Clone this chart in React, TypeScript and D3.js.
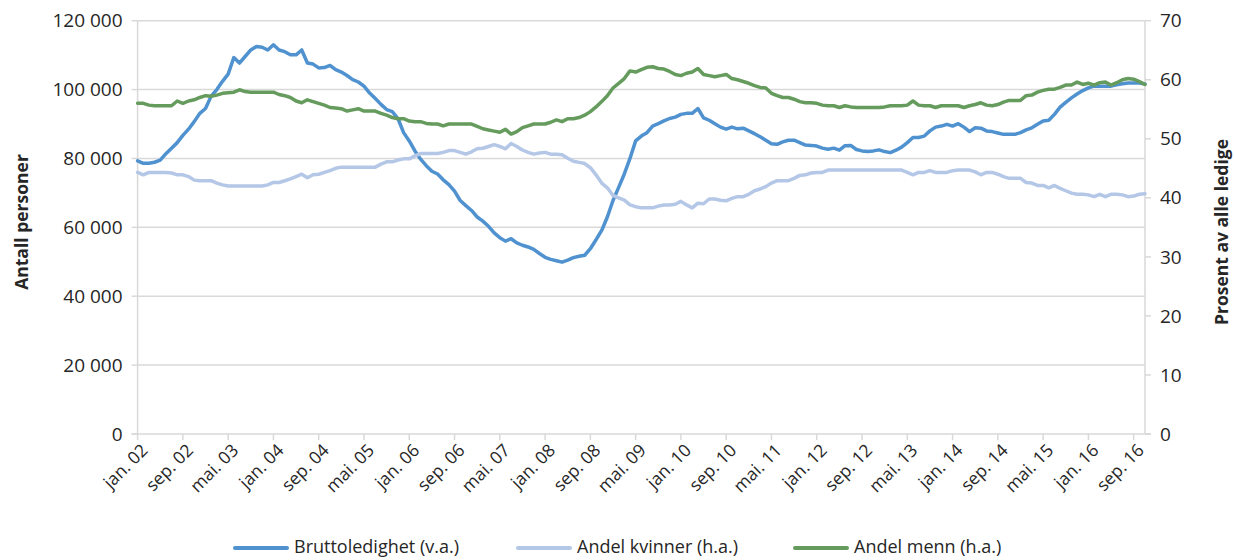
import React, { useRef, useEffect } from "react";
import * as d3 from "d3";

// monthly data, jan 2002 - nov 2016
const startYear = 2002;
const monthNames = ["jan", "feb", "mar", "apr", "mai", "jun", "jul", "aug", "sep", "okt", "nov", "des"];

// Bruttoledighet (antall personer, venstre akse)
const brutto = [
  79300, 78600, 78600, 78900, 79500, 81400, 83000, 84600, 86700, 88500, 90700, 93100,
  94500, 98100, 100000, 102400, 104500, 109300, 107700, 109600, 111500, 112500, 112300, 111500,
  113000, 111500, 111000, 110100, 110100, 111500, 107700, 107400, 106300, 106400, 107000, 105800,
  105100, 104100, 102900, 102200, 101000, 99000, 97400, 95700, 94200, 93600, 91600, 87500,
  85100, 82200, 79800, 77900, 76300, 75500, 73800, 72400, 70500, 67800, 66300, 64900,
  63000, 61800, 60300, 58400, 57000, 56000, 56700, 55500, 54800, 54300, 53600, 52400,
  51300, 50700, 50300, 49900, 50500, 51200, 51600, 51900, 53800, 56400, 59100, 63000,
  67800, 71600, 75500, 80000, 85100, 86500, 87500, 89400, 90100, 90900, 91600, 92000,
  92800, 93100, 93100, 94500, 91800, 91100, 90100, 89100, 88500, 89100, 88600, 88800,
  88000, 87200, 86300, 85300, 84300, 84100, 84800, 85300, 85300, 84600, 83900, 83800,
  83600, 83000, 82700, 83000, 82400, 83700, 83800, 82600, 82200, 82000, 82200, 82500,
  82000, 81700, 82400, 83300, 84600, 86100, 86100, 86500, 88000, 89100, 89400, 89900,
  89400, 90100, 89100, 87800, 88900, 88800, 88000, 87800, 87400, 87000, 87000, 87000,
  87500, 88300, 88900, 89900, 90900, 91100, 92800, 94900, 96300, 97600, 98700, 99700,
  100500, 101000, 101000, 101000, 101000, 101400, 101700, 101900, 101900, 101900, 101600,
];

// Andel kvinner (prosent, hoyre akse)
const kvinner = [
  44.3, 43.9, 44.3, 44.3, 44.3, 44.3, 44.2, 43.9, 43.9, 43.6, 43.0, 42.9,
  42.9, 42.9, 42.5, 42.2, 42.0, 42.0, 42.0, 42.0, 42.0, 42.0, 42.0, 42.2,
  42.6, 42.6, 42.9, 43.2, 43.6, 44.0, 43.4, 43.9, 44.0, 44.3, 44.6, 45.0,
  45.2, 45.2, 45.2, 45.2, 45.2, 45.2, 45.2, 45.7, 46.1, 46.1, 46.4, 46.6,
  46.6, 47.1, 47.5, 47.5, 47.5, 47.5, 47.7, 48.0, 48.0, 47.7, 47.4, 47.8,
  48.3, 48.4, 48.7, 49.0, 48.7, 48.3, 49.2, 48.7, 48.1, 47.7, 47.4, 47.6,
  47.7, 47.4, 47.4, 47.3, 46.7, 46.2, 46.0, 45.8, 45.1, 43.9, 42.5, 41.7,
  40.4, 40.0, 39.6, 38.8, 38.5, 38.3, 38.3, 38.3, 38.6, 38.8, 38.8, 38.9,
  39.4, 38.8, 38.3, 39.1, 39.0, 39.8, 39.8, 39.6, 39.5, 39.9, 40.2, 40.2,
  40.6, 41.2, 41.5, 41.9, 42.5, 42.9, 42.9, 42.9, 43.3, 43.8, 43.9, 44.2,
  44.3, 44.3, 44.7, 44.7, 44.7, 44.7, 44.7, 44.7, 44.7, 44.7, 44.7, 44.7,
  44.7, 44.7, 44.7, 44.7, 44.3, 43.9, 44.3, 44.3, 44.6, 44.3, 44.3, 44.3,
  44.6, 44.7, 44.7, 44.7, 44.4, 43.9, 44.3, 44.3, 44.0, 43.6, 43.3, 43.3,
  43.3, 42.6, 42.5, 42.1, 42.1, 41.7, 42.1, 41.6, 41.2, 40.8, 40.6, 40.6,
  40.5, 40.2, 40.6, 40.2, 40.6, 40.6, 40.5, 40.2, 40.3, 40.6, 40.7,
];

// Andel menn (prosent, hoyre akse)
const menn = [
  56.0, 56.0, 55.7, 55.6, 55.6, 55.6, 55.6, 56.4, 56.0, 56.4, 56.6, 57.0,
  57.3, 57.2, 57.4, 57.7, 57.8, 57.9, 58.3, 58.0, 57.9, 57.9, 57.9, 57.9,
  57.9, 57.5, 57.3, 57.0, 56.4, 56.1, 56.6, 56.3, 56.0, 55.7, 55.3, 55.2,
  55.1, 54.7, 54.9, 55.1, 54.7, 54.7, 54.7, 54.3, 54.0, 53.6, 53.4, 53.4,
  53.0, 52.9, 52.9, 52.6, 52.5, 52.5, 52.2, 52.5, 52.5, 52.5, 52.5, 52.5,
  52.1, 51.7, 51.5, 51.3, 51.1, 51.6, 50.8, 51.2, 51.9, 52.2, 52.5, 52.5,
  52.5, 52.8, 53.2, 52.9, 53.4, 53.4, 53.6, 54.0, 54.6, 55.4, 56.3, 57.3,
  58.6, 59.4, 60.2, 61.5, 61.3, 61.7, 62.1, 62.2, 61.9, 61.8, 61.4, 60.9,
  60.7, 61.1, 61.3, 61.9, 60.9, 60.7, 60.5, 60.7, 60.9, 60.2, 60.0, 59.7,
  59.4, 59.0, 58.7, 58.6, 57.7, 57.3, 57.0, 57.0, 56.7, 56.3, 56.1, 56.1,
  56.0, 55.7, 55.6, 55.6, 55.3, 55.6, 55.4, 55.3, 55.3, 55.3, 55.3, 55.3,
  55.4, 55.6, 55.6, 55.6, 55.7, 56.4, 55.7, 55.6, 55.6, 55.3, 55.6, 55.6,
  55.6, 55.6, 55.3, 55.6, 55.8, 56.1, 55.7, 55.6, 55.8, 56.2, 56.5, 56.5,
  56.5, 57.3, 57.4, 57.9, 58.2, 58.4, 58.4, 58.7, 59.1, 59.1, 59.6, 59.2,
  59.4, 59.1, 59.5, 59.6, 59.1, 59.5, 60.0, 60.2, 60.1, 59.7, 59.2,
];

const months = brutto.map(
  (_, i) => `${monthNames[i % 12]}. ${String((startYear + Math.floor(i / 12)) % 100).padStart(2, "0")}`
);

const leftTicks = [0, 20000, 40000, 60000, 80000, 100000, 120000];
const rightTicks = [0, 10, 20, 30, 40, 50, 60, 70];
const tickStep = 8; // a label every 8th month

const seriesDefs = [
  { name: "Bruttoledighet (v.a.)", values: brutto, axis: "left", color: "#4f92cf" },
  { name: "Andel kvinner (h.a.)", values: kvinner, axis: "right", color: "#b4c7e7" },
  { name: "Andel menn (h.a.)", values: menn, axis: "right", color: "#659b5c" },
];

const WIDTH = 1234;
const HEIGHT = 560;
const TEXT = "#262626";
const GRID = "#d9d9d9";
const FONT = "'Open Sans', sans-serif";

export default function App() {
  const svgRef = useRef(null);

  useEffect(() => {
    const svg = d3.select(svgRef.current);
    svg.selectAll("*").remove();

    const margin = { top: 20.7, right: 89, bottom: 126, left: 137.6 };
    const x = d3
      .scaleLinear()
      .domain([0, months.length - 1])
      .range([margin.left, WIDTH - margin.right]);
    const yLeft = d3
      .scaleLinear()
      .domain([0, 120000])
      .range([HEIGHT - margin.bottom, margin.top]);
    const yRight = d3
      .scaleLinear()
      .domain([0, 70])
      .range([HEIGHT - margin.bottom, margin.top]);

    const x0 = x.range()[0];
    const x1 = x.range()[1];
    const yBottom = yLeft(0);

    // gridlines
    svg
      .append("g")
      .selectAll("line")
      .data(leftTicks.filter((d) => d > 0))
      .enter()
      .append("line")
      .attr("x1", x0)
      .attr("x2", x1)
      .attr("y1", (d) => yLeft(d))
      .attr("y2", (d) => yLeft(d))
      .attr("stroke", GRID)
      .attr("stroke-width", 1.5);

    // axis lines + tick marks
    const axes = svg.append("g").attr("stroke", GRID).attr("stroke-width", 1.5);
    axes.append("line").attr("x1", x0).attr("x2", x0).attr("y1", yLeft(120000)).attr("y2", yBottom);
    axes.append("line").attr("x1", x1).attr("x2", x1).attr("y1", yLeft(120000)).attr("y2", yBottom);
    axes.append("line").attr("x1", x0 - 6).attr("x2", x1 + 6).attr("y1", yBottom).attr("y2", yBottom);

    leftTicks.forEach((t) => {
      axes.append("line").attr("x1", x0 - 6).attr("x2", x0).attr("y1", yLeft(t)).attr("y2", yLeft(t));
    });
    rightTicks.forEach((t) => {
      axes.append("line").attr("x1", x1).attr("x2", x1 + 6).attr("y1", yRight(t)).attr("y2", yRight(t));
    });
    const xTickIdx = d3.range(0, months.length, tickStep);
    xTickIdx.forEach((i) => {
      axes.append("line").attr("x1", x(i)).attr("x2", x(i)).attr("y1", yBottom).attr("y2", yBottom + 6);
    });

    // tick labels
    svg
      .append("g")
      .selectAll("text")
      .data(leftTicks)
      .enter()
      .append("text")
      .attr("x", x0 - 15)
      .attr("y", (d) => yLeft(d))
      .attr("dy", "0.35em")
      .attr("text-anchor", "end")
      .attr("fill", TEXT)
      .style("font-family", FONT)
      .style("font-size", "19px")
      .text((d) => (d === 0 ? "0" : `${Math.floor(d / 1000)} 000`));

    svg
      .append("g")
      .selectAll("text")
      .data(rightTicks)
      .enter()
      .append("text")
      .attr("x", x1 + 15)
      .attr("y", (d) => yRight(d))
      .attr("dy", "0.35em")
      .attr("text-anchor", "start")
      .attr("fill", TEXT)
      .style("font-family", FONT)
      .style("font-size", "19px")
      .text((d) => d);

    svg
      .append("g")
      .selectAll("text")
      .data(xTickIdx)
      .enter()
      .append("text")
      .attr("transform", (i) => `translate(${x(i) + 7}, ${yBottom + 13}) rotate(-45)`)
      .attr("text-anchor", "end")
      .attr("dy", "0.35em")
      .attr("fill", TEXT)
      .style("font-family", FONT)
      .style("font-size", "17.5px")
      .text((i) => months[i]);

    // axis titles
    svg
      .append("text")
      .attr("transform", `translate(28, 222) rotate(-90)`)
      .attr("text-anchor", "middle")
      .attr("fill", TEXT)
      .style("font-family", FONT)
      .style("font-size", "17.5px")
      .style("font-weight", "bold")
      .text("Antall personer");

    svg
      .append("text")
      .attr("transform", `translate(1228, 232) rotate(-90)`)
      .attr("text-anchor", "middle")
      .attr("fill", TEXT)
      .style("font-family", FONT)
      .style("font-size", "17.5px")
      .style("font-weight", "bold")
      .text("Prosent av alle ledige");

    // lines
    seriesDefs.forEach((s) => {
      const y = s.axis === "left" ? yLeft : yRight;
      const line = d3
        .line()
        .x((d, i) => x(i))
        .y((d) => y(d));
      svg
        .append("path")
        .datum(s.values)
        .attr("d", line)
        .attr("fill", "none")
        .attr("stroke", s.color)
        .attr("stroke-width", 3.5)
        .attr("stroke-linejoin", "round")
        .attr("stroke-linecap", "round");
    });

    // legend
    const legendX = [235, 518, 795];
    const legend = svg.append("g").attr("transform", `translate(0, 547)`);
    seriesDefs.forEach((s, k) => {
      legend
        .append("line")
        .attr("x1", legendX[k])
        .attr("x2", legendX[k] + 52)
        .attr("y1", 1)
        .attr("y2", 1)
        .attr("stroke", s.color)
        .attr("stroke-width", 4)
        .attr("stroke-linecap", "round");
      legend
        .append("text")
        .attr("x", legendX[k] + 59)
        .attr("y", 0)
        .attr("dy", "0.35em")
        .attr("fill", TEXT)
        .style("font-family", FONT)
        .style("font-size", "18px")
        .text(s.name);
    });
  }, []);

  return (
    <svg
      ref={svgRef}
      width={WIDTH}
      height={HEIGHT}
      style={{ position: "absolute", left: 0, top: 0, background: "#fff" }}
    ></svg>
  );
}
